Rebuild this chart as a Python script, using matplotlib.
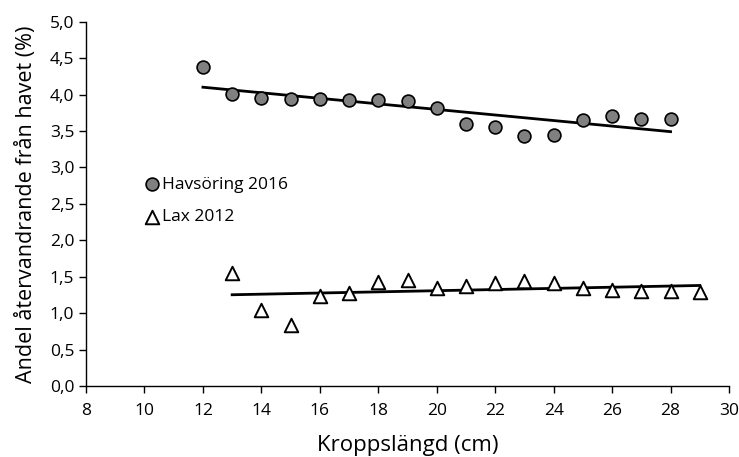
import matplotlib
matplotlib.use('Agg')
from matplotlib import pyplot as plt
import numpy as np

plt.rcParams['font.family'] = ['Open Sans', 'DejaVu Sans']

# havsoring 2016
hav_x = [12, 13, 14, 15, 16, 17, 18, 19, 20, 21, 22, 23, 24, 25, 26, 27, 28]
hav_y = [4.38, 4.01, 3.95, 3.94, 3.94, 3.93, 3.93, 3.91, 3.82, 3.60, 3.56,
         3.43, 3.44, 3.65, 3.70, 3.67, 3.67]

# lax 2012
lax_x = [13, 14, 15, 16, 17, 18, 19, 20, 21, 22, 23, 24, 25, 26, 27, 28, 29]
lax_y = [1.55, 1.04, 0.84, 1.24, 1.27, 1.43, 1.45, 1.34, 1.37, 1.42, 1.44,
         1.42, 1.35, 1.32, 1.30, 1.30, 1.29]

x_ticks = [8, 10, 12, 14, 16, 18, 20, 22, 24, 26, 28, 30]
y_ticks = [0.0, 0.5, 1.0, 1.5, 2.0, 2.5, 3.0, 3.5, 4.0, 4.5, 5.0]

fig = plt.figure(figsize=(7.39, 4.57), dpi=100)
ax = fig.add_axes([0.1164, 0.1554, 0.8701, 0.7971])

ax.scatter(hav_x, hav_y, s=85, marker='o', facecolor='#808080',
           edgecolor='black', linewidth=1.2, label='Havsöring 2016', zorder=3)
ax.scatter(lax_x, lax_y, s=95, marker='^', facecolor='white',
           edgecolor='black', linewidth=1.4, label='Lax 2012', zorder=3)

# linear trend lines
for xs, ys in [(hav_x, hav_y), (lax_x, lax_y)]:
    k, m = np.polyfit(xs, ys, 1)
    xe = np.array([xs[0], xs[-1]])
    ax.plot(xe, k * xe + m, color='black', linewidth=2, zorder=2)

ax.set_xlim(8, 30)
ax.set_ylim(0, 5)
ax.set_xticks(x_ticks)
ax.set_yticks(y_ticks)
ax.set_yticklabels([f'{v:.1f}'.replace('.', ',') for v in y_ticks])
ax.tick_params(labelsize=12.5, length=5, width=1, direction='out')
ax.tick_params(axis='x', pad=7)
for side in ['top', 'right']:
    ax.spines[side].set_visible(False)
for side in ['left', 'bottom']:
    ax.spines[side].set_linewidth(1)

ax.set_xlabel('Kroppslängd (cm)', fontsize=16, labelpad=12)
ax.set_ylabel('Andel återvandrande från havet (%)', fontsize=15.5, labelpad=9)

ax.legend(loc='upper left', bbox_to_anchor=(0.062, 0.618), frameon=False,
          fontsize=12.5, handletextpad=0.0, labelspacing=0.95, markerscale=1,
          handlelength=1.2)

plt.savefig('out.png', dpi=100)
